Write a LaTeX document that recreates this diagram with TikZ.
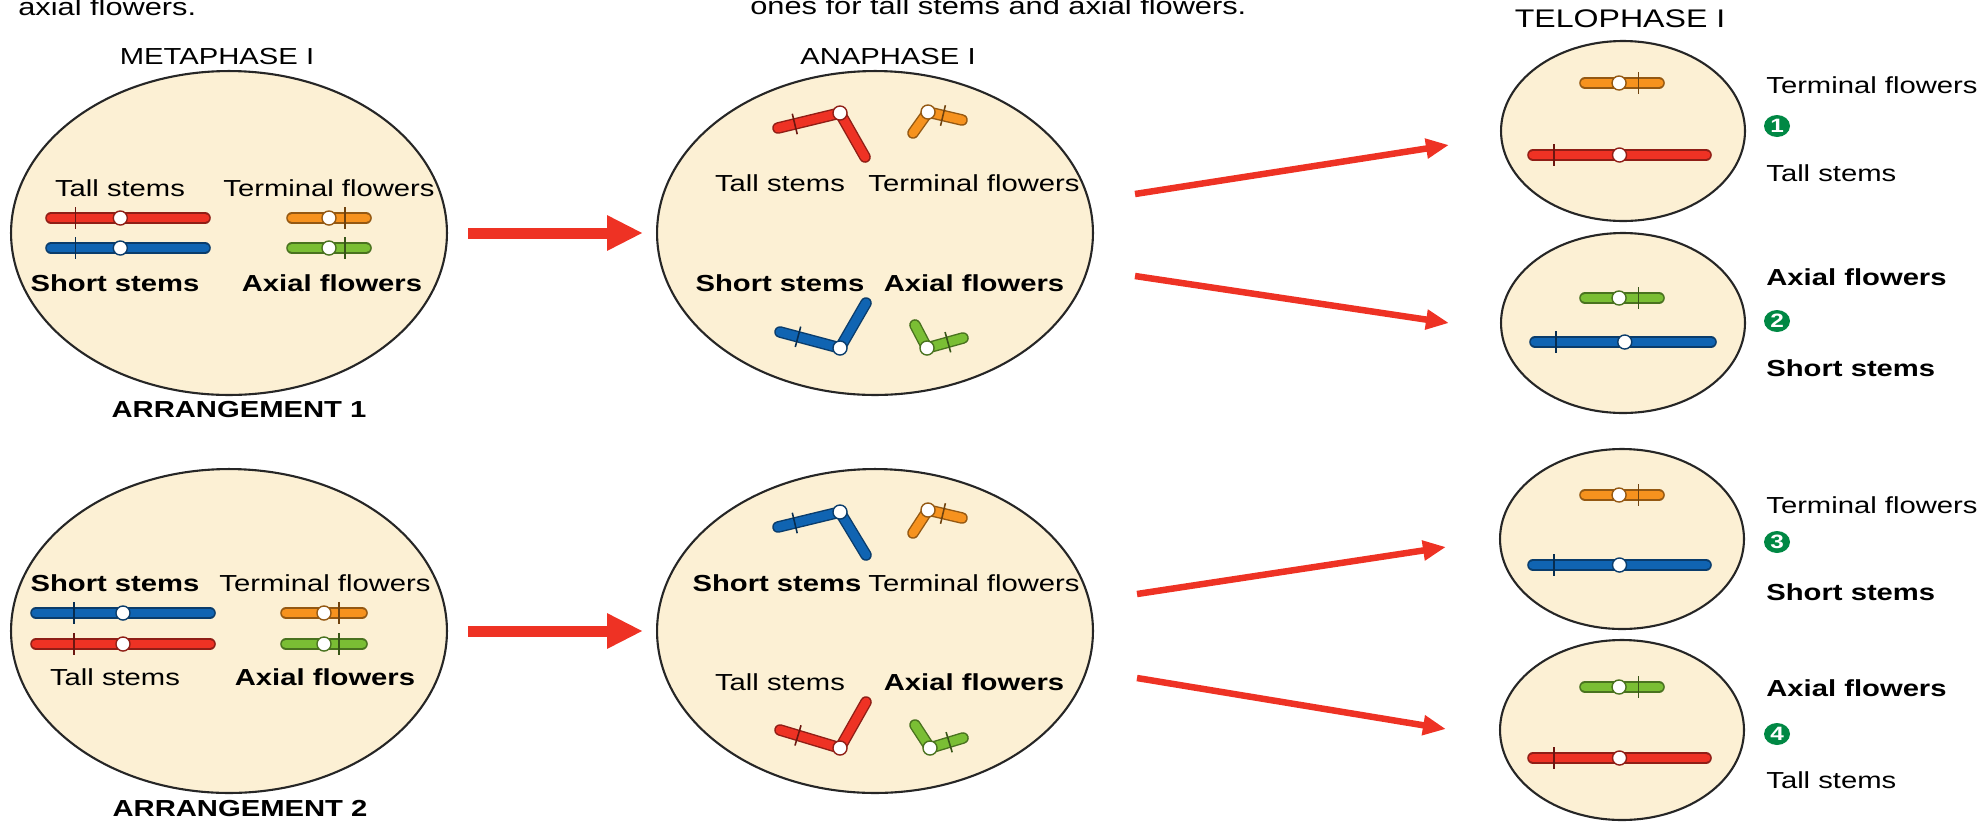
\documentclass[tikz,border=0pt]{standalone}
\usepackage{fontspec}
\newfontfamily\lblfont[FakeStretch=1.26]{Liberation Sans}
\usetikzlibrary{shapes.geometric,arrows.meta,calc}
\definecolor{cellbg}{RGB}{252,240,212}
\definecolor{chred}{RGB}{238,50,36}
\definecolor{chblue}{RGB}{16,100,178}
\definecolor{chorange}{RGB}{246,146,30}
\definecolor{chgreen}{RGB}{122,190,52}
\definecolor{numgreen}{RGB}{0,136,68}
\tikzset{
 cell/.style={ellipse,draw=black!85,line width=1.2pt,fill=cellbg,inner sep=0pt},
 bigcell/.style={cell,minimum width=8.72cm,minimum height=6.48cm},
 smallcell/.style={cell,minimum width=4.88cm,minimum height=3.6cm},
 lbl/.style={inner sep=0pt,font=\lblfont\fontsize{13.2}{15}\selectfont},
 blbl/.style={lbl,font=\lblfont\fontsize{13.2}{15}\selectfont\bfseries},
 toptxt/.style={lbl,anchor=base west,font=\lblfont\fontsize{13.9}{16}\selectfont},
 num/.style={ellipse,fill=numgreen,text=white,inner sep=0pt,minimum width=0.52cm,minimum height=0.44cm,font=\lblfont\bfseries\fontsize{11}{11}\selectfont},
 movearrow/.style={chred,line width=0.22cm,-{Triangle[length=0.72cm,width=0.66cm]}},
 splitarrow/.style={chred,line width=0.13cm,-{Triangle[length=0.46cm,width=0.38cm]}}
}
% straight chromosome: colour, end, end, centromere, band
\newcommand{\chrom}[5]{%
 \draw[line cap=round,line width=6.6pt,#1!60!black] (#2)--(#3);
 \draw[line cap=round,line width=5pt,#1] (#2)--(#3);
 \coordinate (bd) at ($(#2)!#5!(#3)$);
 \draw[#1!45!black,line width=0.9pt] ($(bd)!6pt!90:(#3)$)--($(bd)!6pt!-90:(#3)$);
 \draw[#1!60!black,fill=white,line width=0.8pt] ($(#2)!#4!(#3)$) circle (4pt);}
% bent chromosome: colour, centromere, banded arm, other arm, band
\newcommand{\vchrom}[5]{%
 \draw[line cap=round,line join=round,line width=6.6pt,#1!60!black] (#3)--(#2)--(#4);
 \draw[line cap=round,line join=round,line width=5pt,#1] (#3)--(#2)--(#4);
 \coordinate (bd) at ($(#2)!#5!(#3)$);
 \draw[#1!45!black,line width=0.9pt] ($(bd)!6pt!90:(#3)$)--($(bd)!6pt!-90:(#3)$);
 \draw[#1!60!black,fill=white,line width=0.8pt] (#2) circle (4pt);}
\begin{document}
\begin{tikzpicture}[x=0.02cm,y=-0.02cm]
\useasboundingbox (0,0) rectangle (1981,826);
\node[toptxt] (txt1) at (18,15) {axial flowers.};
\node[toptxt] (txt2) at (750,14) {ones for tall stems and axial flowers.};
\node[lbl] (meta) at (217,57) {METAPHASE I};
\node[lbl] (ana) at (888,57) {ANAPHASE I};
\node[lbl,font=\lblfont\fontsize{14.5}{16}\selectfont] (telo) at (1620,19) {TELOPHASE I};
% cells
\node[bigcell] (m1) at (229,233) {};
\node[bigcell] (m2) at (229,631) {};
\node[bigcell] (a1) at (875,233) {};
\node[bigcell] (a2) at (875,631) {};
\node[smallcell] (t1) at (1623,131) {};
\node[smallcell] (t2) at (1623,323) {};
\node[smallcell] (t3) at (1622,539) {};
\node[smallcell] (t4) at (1622,730) {};
% metaphase
\chrom{chred}{51,218}{205,218}{.45}{.16}
\chrom{chblue}{51,248}{205,248}{.45}{.16}
\chrom{chorange}{292,218}{366,218}{.5}{.72}
\chrom{chgreen}{292,248}{366,248}{.5}{.72}
\node[lbl] (m1a) at (120,188) {Tall stems};
\node[lbl] (m1b) at (329,188) {Terminal flowers};
\node[blbl] (m1c) at (115,283) {Short stems};
\node[blbl] (m1d) at (332,283) {Axial flowers};
\node[blbl] (arr1) at (239,410) {ARRANGEMENT 1};
\chrom{chblue}{36,613}{210,613}{.5}{.22}
\chrom{chred}{36,644}{210,644}{.5}{.22}
\chrom{chorange}{286,613}{362,613}{.5}{.7}
\chrom{chgreen}{286,644}{362,644}{.5}{.7}
\node[blbl] (m2a) at (115,583) {Short stems};
\node[lbl] (m2b) at (325,583) {Terminal flowers};
\node[lbl] (m2c) at (115,677) {Tall stems};
\node[blbl] (m2d) at (325,677) {Axial flowers};
\node[blbl] (arr2) at (240,808) {ARRANGEMENT 2};
% anaphase
\vchrom{chred}{840,113}{778,128}{865,157}{.73}
\vchrom{chorange}{928,112}{962,120}{913,133}{.44}
\vchrom{chblue}{840,348}{780,332}{866,303}{.7}
\vchrom{chgreen}{927,348}{963,338}{915,325}{.58}
\node[lbl] (a1a) at (780,183) {Tall stems};
\node[lbl] (a1b) at (974,183) {Terminal flowers};
\node[blbl] (a1c) at (780,283) {Short stems};
\node[blbl] (a1d) at (974,283) {Axial flowers};
\vchrom{chblue}{840,512}{778,527}{866,555}{.73}
\vchrom{chorange}{928,510}{962,518}{913,533}{.44}
\vchrom{chred}{840,748}{780,730}{866,702}{.7}
\vchrom{chgreen}{930,748}{963,738}{915,725}{.58}
\node[blbl] (a2a) at (777,583) {Short stems};
\node[lbl] (a2b) at (974,583) {Terminal flowers};
\node[lbl] (a2c) at (780,682) {Tall stems};
\node[blbl] (a2d) at (974,682) {Axial flowers};
% telophase
\chrom{chorange}{1585,83}{1659,83}{.46}{.72}
\chrom{chred}{1533,155}{1706,155}{.5}{.12}
\chrom{chgreen}{1585,298}{1659,298}{.46}{.72}
\chrom{chblue}{1535,342}{1711,342}{.51}{.12}
\chrom{chorange}{1585,495}{1659,495}{.46}{.72}
\chrom{chblue}{1533,565}{1706,565}{.5}{.12}
\chrom{chgreen}{1585,687}{1659,687}{.46}{.72}
\chrom{chred}{1533,758}{1706,758}{.5}{.12}
\node[lbl,anchor=west] (t1a) at (1766,85) {Terminal flowers};
\node[num] (n1) at (1777,126) {1};
\node[lbl,anchor=west] (t1b) at (1766,173) {Tall stems};
\node[blbl,anchor=west] (t2a) at (1766,277) {Axial flowers};
\node[num] (n2) at (1777,321) {2};
\node[blbl,anchor=west] (t2b) at (1766,368) {Short stems};
\node[lbl,anchor=west] (t3a) at (1766,505) {Terminal flowers};
\node[num] (n3) at (1777,542) {3};
\node[blbl,anchor=west] (t3b) at (1766,592) {Short stems};
\node[blbl,anchor=west] (t4a) at (1766,688) {Axial flowers};
\node[num] (n4) at (1777,734) {4};
\node[lbl,anchor=west] (t4b) at (1766,780) {Tall stems};
% arrows
\draw[movearrow] ([xshift=0.4cm]m1.east) -- ([xshift=-0.26cm]a1.west);
\draw[movearrow] ([xshift=0.4cm]m2.east) -- ([xshift=-0.26cm]a2.west);
\draw[splitarrow] ([shift={(41,-39)}]a1.east) -- ([shift={(-51,14)}]t1.west);
\draw[splitarrow] ([shift={(41,43)}]a1.east) -- ([shift={(-51,0)}]t2.west);
\draw[splitarrow] ([shift={(43,-37)}]a2.east) -- ([shift={(-53,8)}]t3.west);
\draw[splitarrow] ([shift={(43,47)}]a2.east) -- ([shift={(-53,-1)}]t4.west);
\end{tikzpicture}
\end{document}
